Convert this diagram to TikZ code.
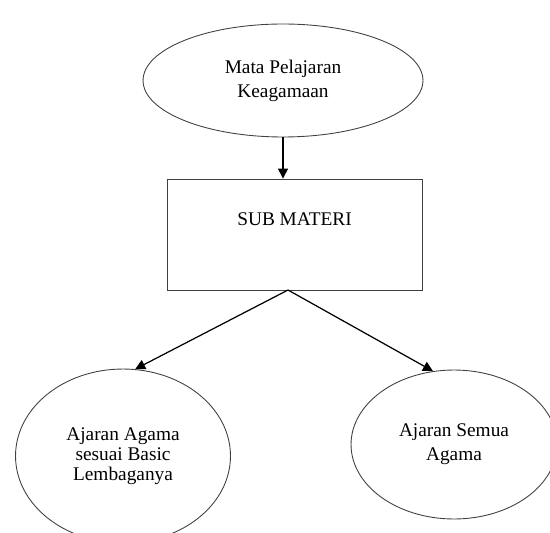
\documentclass[tikz,border=0pt]{standalone}
\usepackage{fontspec}
\setmainfont{Liberation Serif}
\usetikzlibrary{shapes.geometric,arrows.meta}
\begin{document}
\begin{tikzpicture}[x=0.02cm,y=-0.02cm,
    font=\fontsize{11}{13.6}\selectfont,
    oval/.style={draw=black!75,line width=0.5pt,shape=ellipse,inner sep=0pt,align=center},
    kotak/.style={draw=black!75,line width=0.5pt,minimum width=5.1cm,minimum height=2.22cm},
    panah/.style={-{Triangle[length=0.2cm,width=0.2cm]},line width=0.7pt}]
      \useasboundingbox (0,0) rectangle (550,533) ;
      \node[oval,minimum width=5.6cm,minimum height=2.26cm] (mapel) at (283,80.5) %
      {Mata Pelajaran\\Keagamaan} ;
      \node[kotak] (sub) at (294.5,234.5) {} ;
      \node (subtxt) at (294.5,219) {SUB MATERI} ;
      \node[oval,minimum width=4.3cm,minimum height=3.48cm,font=\fontsize{11}{11.4}\selectfont] %
      (lembaga) at (123,456) {Ajaran Agama\\sesuai Basic\\Lembaganya} ;
      \node[oval,minimum width=4.12cm,minimum height=2.98cm] (semua) at (454,444.5) %
      {Ajaran Semua\\Agama} ;
      \coordinate (cabang) at (288,290) ;
      \draw[panah] (mapel.south) -- (mapel.south |- sub.north) ;
      \draw[panah] (cabang) -- (lembaga.82) ;
      \draw[panah] (cabang) -- (semua.106) ;
    \end{tikzpicture}
\end{document}
